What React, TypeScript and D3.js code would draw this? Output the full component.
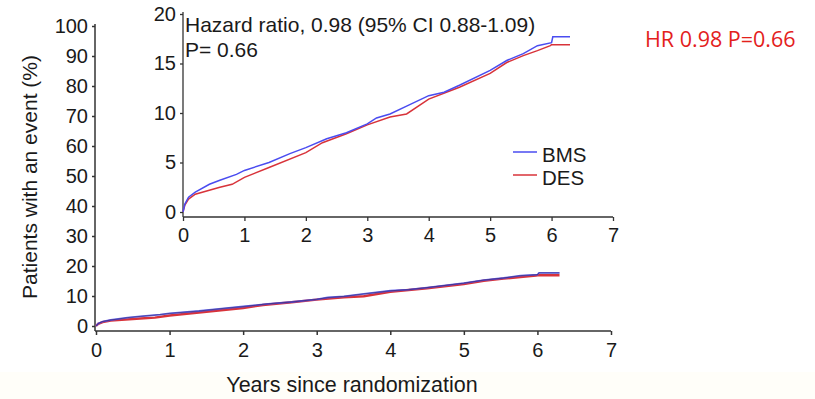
import { useEffect, useRef } from 'react';
import * as d3 from 'd3';

// Kaplan-Meier style cumulative event curves (% of patients)
const bmsYears = [0, 0.03, 0.09, 0.2, 0.43, 0.6, 0.87, 1.0, 1.4, 1.74, 2.0, 2.34, 2.66, 3.0, 3.15, 3.37, 3.64, 4.0, 4.25, 4.5, 5.0, 5.27, 5.54, 5.77, 6.0, 6.02, 6.3];
const bmsPct = [0, 0.8, 1.5, 2.0, 2.8, 3.2, 3.8, 4.2, 5.0, 5.9, 6.5, 7.4, 8.0, 8.9, 9.5, 9.9, 10.7, 11.75, 12.1, 12.8, 14.3, 15.3, 16.0, 16.8, 17.1, 17.7, 17.7];

const desYears = [0, 0.03, 0.09, 0.2, 0.6, 0.8, 1.0, 1.4, 2.0, 2.27, 2.66, 3.0, 3.37, 3.64, 4.0, 4.5, 5.0, 5.27, 5.54, 5.77, 5.98, 6.0, 6.3];
const desPct = [0, 0.7, 1.3, 1.8, 2.5, 2.8, 3.5, 4.5, 6.0, 7.0, 7.9, 8.8, 9.6, 9.9, 11.4, 12.6, 14.0, 15.1, 15.8, 16.3, 16.8, 16.9, 16.9];

const xTicks = [0, 1, 2, 3, 4, 5, 6, 7];
const mainYTicks = [0, 10, 20, 30, 40, 50, 60, 70, 80, 90, 100];
const insetYTicks = [0, 5, 10, 15, 20];

const seriesNames = ['BMS', 'DES'];
const seriesColors = ['#4a4cf0', '#d8333a'];

const hazardText = 'Hazard ratio, 0.98 (95% CI 0.88-1.09)';
const pText = 'P= 0.66';
const noteText = 'HR 0.98 P=0.66';

type Pt = { t: number; v: number };

export default function App() {
  const svgRef = useRef<SVGSVGElement | null>(null);

  useEffect(() => {
    if (!svgRef.current) return;
    document.body.style.margin = '0';

    const svg = d3.select(svgRef.current);
    svg.selectAll('*').remove();

    const font = '"Liberation Sans", Arial, sans-serif';
    const fmt = d3.format('d');

    // background, with a very faint paper tint at the bottom
    svg.append('rect').attr('x', 0).attr('y', 0).attr('width', 815).attr('height', 399).attr('fill', '#ffffff');
    svg.append('rect').attr('x', 0).attr('y', 372).attr('width', 815).attr('height', 27).attr('fill', '#fffef9');

    const bms: Pt[] = bmsYears.map((t, i) => ({ t, v: bmsPct[i] }));
    const des: Pt[] = desYears.map((t, i) => ({ t, v: desPct[i] }));

    // ---- main chart ----
    const x = d3.scaleLinear().domain([0, 7]).range([96, 611]);
    const y = d3.scaleLinear().domain([0, 100]).range([326, 26]);

    const xAxisMain = svg.append('g')
      .attr('transform', 'translate(0,331)')
      .call(d3.axisBottom(x).tickValues(xTicks).tickFormat(d => fmt(d as number)).tickSize(4).tickSizeOuter(0).tickPadding(8));
    const yAxisMain = svg.append('g')
      .attr('transform', 'translate(95,0)')
      .call(d3.axisLeft(y).tickValues(mainYTicks).tickFormat(d => fmt(d as number)).tickSize(3).tickSizeOuter(0).tickPadding(4));

    [xAxisMain, yAxisMain].forEach(g => {
      g.select('.domain').attr('stroke', '#333').attr('stroke-width', 1.5);
      g.selectAll('.tick line').attr('stroke', '#333').attr('stroke-width', 1.5);
      g.selectAll('.tick text').attr('fill', '#1a1a1a').style('font-family', font).style('font-size', '20px');
    });
    yAxisMain.select('.domain').attr('d', 'M0,24V331');
    xAxisMain.select('.domain').attr('d', 'M95,0H611');

    const lineMain = d3.line<Pt>().x(d => x(d.t)).y(d => y(d.v));
    svg.append('path').datum(des).attr('fill', 'none').attr('stroke', seriesColors[1]).attr('stroke-width', 2.4).attr('d', lineMain);
    svg.append('path').datum(bms).attr('fill', 'none').attr('stroke', seriesColors[0]).attr('stroke-width', 1.8).attr('opacity', 0.85).attr('d', lineMain);
    svg.append('path').datum(bms).attr('fill', 'none').attr('stroke', '#2a2040').attr('stroke-width', 0.8).attr('opacity', 0.6).attr('d', lineMain);

    svg.append('text')
      .attr('x', 352).attr('y', 392)
      .attr('text-anchor', 'middle')
      .attr('fill', '#1a1a1a')
      .style('font-family', font).style('font-size', '21.5px')
      .text('Years since randomization');

    svg.append('text')
      .attr('transform', 'translate(37,177) rotate(-90)')
      .attr('text-anchor', 'middle')
      .attr('fill', '#1a1a1a')
      .style('font-family', font).style('font-size', '21px')
      .text('Patients with an event (%)');

    // ---- inset chart ----
    const xi = d3.scaleLinear().domain([0, 7]).range([183, 613]);
    const yi = d3.scaleLinear().domain([0, 20]).range([212, 14]);

    const xAxisIn = svg.append('g')
      .attr('transform', 'translate(0,217)')
      .call(d3.axisBottom(xi).tickValues(xTicks).tickFormat(d => fmt(d as number)).tickSize(4).tickSizeOuter(0).tickPadding(7));
    const yAxisIn = svg.append('g')
      .attr('transform', 'translate(183,0)')
      .call(d3.axisLeft(yi).tickValues(insetYTicks).tickFormat(d => fmt(d as number)).tickSize(3).tickSizeOuter(0).tickPadding(4));

    [xAxisIn, yAxisIn].forEach(g => {
      g.select('.domain').attr('stroke', '#333').attr('stroke-width', 1.3);
      g.selectAll('.tick line').attr('stroke', '#333').attr('stroke-width', 1.3);
      g.selectAll('.tick text').attr('fill', '#1a1a1a').style('font-family', font).style('font-size', '20px');
    });
    yAxisIn.select('.domain').attr('d', 'M0,12V217');
    xAxisIn.select('.domain').attr('d', 'M183,0H613');

    const lineIn = d3.line<Pt>().x(d => xi(d.t)).y(d => yi(d.v));
    svg.append('path').datum(des).attr('fill', 'none').attr('stroke', seriesColors[1]).attr('stroke-width', 1.5).attr('d', lineIn);
    svg.append('path').datum(bms).attr('fill', 'none').attr('stroke', seriesColors[0]).attr('stroke-width', 1.5).attr('d', lineIn);

    svg.append('text')
      .attr('x', 185).attr('y', 32)
      .attr('fill', '#1a1a1a')
      .style('font-family', font).style('font-size', '21px')
      .text(hazardText);
    svg.append('text')
      .attr('x', 185).attr('y', 57)
      .attr('fill', '#1a1a1a')
      .style('font-family', font).style('font-size', '21px')
      .text(pText);

    // legend
    const legend = svg.append('g').attr('transform', 'translate(513,152)');
    seriesNames.forEach((name, i) => {
      const row = legend.append('g').attr('transform', `translate(0,${i * 23})`);
      row.append('line').attr('x1', 0).attr('x2', 24).attr('y1', 0).attr('y2', 0)
        .attr('stroke', seriesColors[i]).attr('stroke-width', 1.5);
      row.append('text').attr('x', 29).attr('y', 10)
        .attr('fill', '#1a1a1a')
        .style('font-family', font).style('font-size', '20.5px')
        .text(name);
    });

    // annotation
    svg.append('text')
      .attr('x', 645).attr('y', 47)
      .attr('fill', '#e3211c')
      .style('font-family', '"Open Sans", sans-serif').style('font-size', '21.5px')
      .text(noteText);
  }, []);

  return (
    <svg ref={svgRef} width={815} height={399} style={{ display: 'block', position: 'absolute', left: 0, top: 0 }} />
  );
}
